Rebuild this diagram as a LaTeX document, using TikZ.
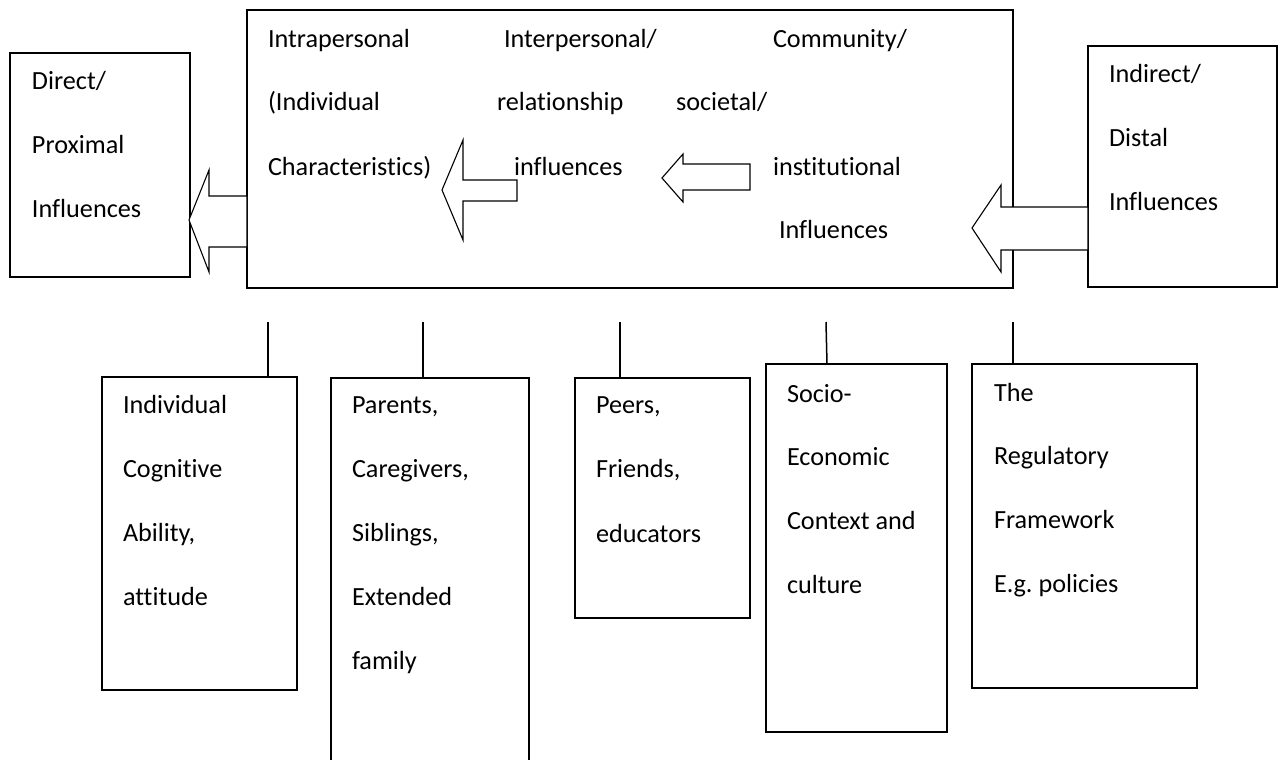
\documentclass[tikz,border=0pt]{standalone}
\usepackage{fontspec}
\setmainfont{Carlito}[Ligatures=NoCommon]
\frenchspacing
\begin{document}
\begin{tikzpicture}[x=0.5pt,y=-0.5pt,
  box/.style={draw=black,line width=0.8pt,anchor=north west,inner sep=0pt,outer sep=0pt,fill=white},
  txt/.style={anchor=base west,inner sep=0pt,outer sep=0pt,font=\fontsize{13.1}{16}\selectfont},
  blockarrow/.style={draw=black,line width=0.55pt,fill=white,line join=miter},
  link/.style={draw=black,line width=0.75pt}]
\useasboundingbox (0,0) rectangle (1281,760);
\clip (0,0) rectangle (1281,760);

% top row boxes
\node[box,minimum width=90pt,minimum height=112pt] (direct) at (10,53) {};
\node[box,minimum width=383pt,minimum height=139pt] (main) at (247,10) {};
\node[box,minimum width=94.5pt,minimum height=120.5pt] (indirect) at (1088,46) {};

% bottom boxes
\node[box,minimum width=97.5pt,minimum height=156.5pt] (b1) at (102,377) {};
\node[box,minimum width=99pt,minimum height=201pt] (b2) at (331,378) {};
\node[box,minimum width=87.5pt,minimum height=120pt] (b3) at (575,378) {};
\node[box,minimum width=90.5pt,minimum height=184pt] (b4) at (766,364) {};
\node[box,minimum width=112.5pt,minimum height=162pt] (b5) at (972,364) {};

% connectors to bottom boxes
\coordinate (t1) at (268,322);
\coordinate (t2) at (423,322);
\coordinate (t3) at (620,322);
\coordinate (t4) at (826,322);
\coordinate (t5) at (1013,322);
\draw[link] (t1) -- (t1 |- b1.north);
\draw[link] (t2) -- (t2 |- b2.north);
\draw[link] (t3) -- (t3 |- b3.north);
\draw[link] (t4) -- ([xshift=0.5pt]t4 |- b4.north);
\draw[link] (t5) -- (t5 |- b5.north);

% block arrows
\draw[blockarrow] (247,196) -- (209,196) -- (209,170) -- (189,220) -- (209,272) -- (209,247) -- (247,247) -- cycle;
\draw[blockarrow] (517,180) -- (463,180) -- (463,140) -- (442,190) -- (463,240) -- (463,201) -- (517,201) -- cycle;
\draw[blockarrow] (750,164) -- (683,164) -- (683,154) -- (662,178) -- (683,202) -- (683,190) -- (750,190) -- cycle;
\draw[blockarrow] (1088,207) -- (1001,207) -- (1001,185) -- (972,228) -- (1001,272) -- (1001,250) -- (1088,250) -- cycle;

% texts of the left and right boxes
\foreach \t [count=\i from 0] in {Direct/,Proximal,Influences}
  \node[txt] (dt\i) at (32,90+63.5*\i) {\t};
\foreach \t [count=\i from 0] in {Indirect/,Distal,Influences}
  \node[txt] (it\i) at (1109,83+63.5*\i) {\t};

% texts of the main box
\node[txt] (m1) at (268,47) {Intrapersonal};
\node[txt] (m2) at (268,110) {(Individual};
\node[txt] (m3) at (268,175) {Characteristics)};
\node[txt] (m4) at (504,47) {Interpersonal/};
\node[txt] (m5) at (497,110) {relationship};
\node[txt] (m6) at (514,175) {influences};
\node[txt] (m7) at (773,47) {Community/};
\node[txt] (m8) at (676,110) {societal/};
\node[txt] (m9) at (773,175) {institutional};
\node[txt] (m10) at (779,238) {Influences};

% texts of the bottom boxes
\foreach \t [count=\i from 0] in {Individual,Cognitive,{Ability,},attitude}
  \node[txt] (bt1\i) at (123,413+64*\i) {\t};
\foreach \t [count=\i from 0] in {{Parents,},{Caregivers,},{Siblings,},Extended,family}
  \node[txt] (bt2\i) at (352,413+64.2*\i) {\t};
\foreach \t [count=\i from 0] in {{Peers,},{Friends,},educators}
  \node[txt] (bt3\i) at (596,413+64.5*\i) {\t};
\foreach \t [count=\i from 0] in {Socio-,Economic,Context and,culture}
  \node[txt] (bt4\i) at (787,402+63.7*\i) {\t};
\foreach \t [count=\i from 0] in {The,Regulatory,Framework,E.g. policies}
  \node[txt] (bt5\i) at (994,401+63.7*\i) {\t};
\end{tikzpicture}
\end{document}
